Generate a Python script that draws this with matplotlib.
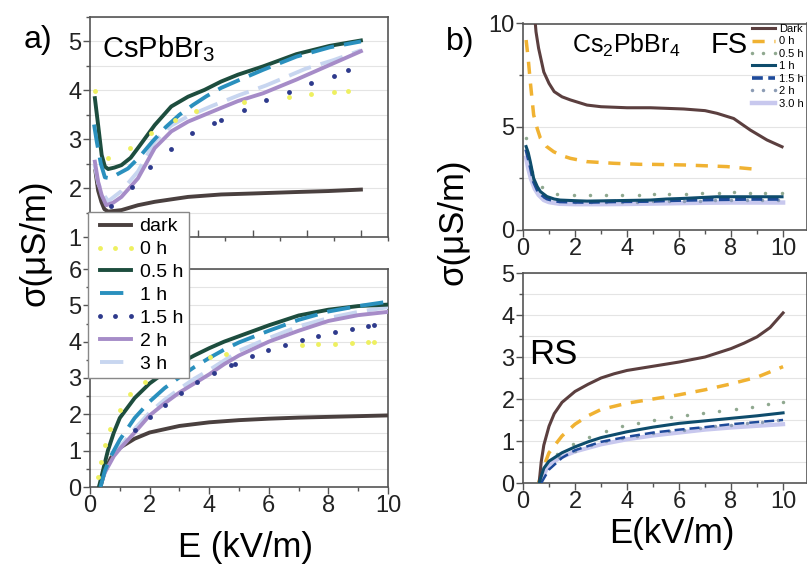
import numpy as np
import matplotlib
matplotlib.use("Agg")
import matplotlib.pyplot as plt
from matplotlib.ticker import MultipleLocator

plt.rcParams['font.family'] = ['Liberation Sans', 'DejaVu Sans']
plt.rcParams['mathtext.default'] = 'regular'

# ---- CsPbBr3, upper panel ----
at_dark_x = [0.2, 0.3, 0.42, 0.53, 0.67, 1.16, 1.77, 2.39, 3.0, 3.62, 4.84, 6.0, 7.62, 8.8, 10.0]
at_dark_y = [2.35, 1.95, 1.72, 1.57, 1.52, 1.55, 1.65, 1.72, 1.77, 1.82, 1.87, 1.89, 1.92, 1.94, 1.97]
at_05_x = [0.18, 0.3, 0.43, 0.55, 0.67, 0.9, 1.16, 1.5, 1.77, 2.1, 2.39, 3.0, 3.62, 4.23, 4.84, 5.46, 6.39, 7.62, 8.85, 10.0]
at_05_y = [3.84, 3.29, 2.68, 2.44, 2.39, 2.42, 2.47, 2.62, 2.82, 3.07, 3.29, 3.67, 3.87, 4.01, 4.18, 4.32, 4.49, 4.74, 4.91, 5.02]
at_1_x = [0.15, 0.25, 0.4, 0.55, 0.75, 1.0, 1.4, 1.8, 2.3, 2.8, 3.3, 3.8, 4.3, 4.84, 5.46, 6.39, 7.62, 8.85, 10.0]
at_1_y = [3.3, 2.95, 2.5, 2.22, 2.2, 2.28, 2.4, 2.62, 2.95, 3.25, 3.5, 3.7, 3.88, 4.05, 4.2, 4.42, 4.69, 4.88, 5.0]
at_2_x = [0.18, 0.3, 0.43, 0.6, 0.85, 1.16, 1.77, 2.39, 3.0, 3.62, 4.23, 4.84, 5.46, 6.39, 7.62, 8.85, 10.0]
at_2_y = [2.54, 2.13, 1.86, 1.65, 1.7, 1.82, 2.2, 2.82, 3.16, 3.36, 3.5, 3.64, 3.78, 3.94, 4.22, 4.52, 4.8]
at_3_x = [0.17, 0.3, 0.43, 0.67, 1.16, 1.77, 2.39, 3.0, 3.62, 4.5, 5.5, 6.5, 7.95, 9.0, 10.0]
at_3_y = [2.48, 2.1, 1.93, 1.73, 1.94, 2.34, 2.95, 3.28, 3.47, 3.68, 3.9, 4.1, 4.44, 4.62, 4.82]
at_0_x = [0.19, 0.67, 1.47, 2.27, 3.15, 3.93, 5.68, 7.35, 8.15, 9.0, 9.52]
at_0_y = [3.99, 2.62, 2.82, 3.12, 3.4, 3.57, 3.76, 3.87, 3.92, 3.97, 3.99]
at_15_x = [0.79, 1.55, 2.22, 2.98, 3.76, 4.57, 4.84, 5.68, 6.51, 7.35, 8.15, 9.0, 9.52]
at_15_y = [1.64, 2.03, 2.44, 2.8, 3.12, 3.33, 3.4, 3.6, 3.8, 3.97, 4.15, 4.3, 4.42]

# ---- CsPbBr3, lower panel ----
ab_dark_x = [0.35, 0.5, 0.7, 1.0, 1.5, 2.0, 3.0, 4.0, 5.0, 6.0, 7.0, 8.0, 9.0, 10.0]
ab_dark_y = [0.0, 0.45, 0.8, 1.08, 1.33, 1.5, 1.68, 1.78, 1.84, 1.88, 1.91, 1.93, 1.95, 1.97]
ab_05_x = [0.3, 0.45, 0.6, 0.8, 1.0, 1.5, 2.0, 2.5, 3.0, 3.5, 4.0, 4.5, 5.0, 6.0, 7.0, 8.0, 9.0, 10.0]
ab_05_y = [0.0, 0.5, 1.0, 1.5, 1.9, 2.45, 2.85, 3.15, 3.4, 3.62, 3.82, 4.0, 4.15, 4.45, 4.72, 4.88, 4.98, 5.02]
ab_1_x = [0.35, 0.5, 0.7, 1.0, 1.5, 2.0, 2.5, 3.0, 3.5, 4.0, 4.5, 5.0, 6.0, 7.0, 8.0, 9.0, 10.0]
ab_1_y = [0.0, 0.45, 0.85, 1.3, 1.9, 2.35, 2.72, 3.02, 3.3, 3.55, 3.78, 3.98, 4.3, 4.6, 4.83, 4.98, 5.1]
ab_2_x = [0.32, 0.5, 0.8, 1.0, 1.5, 2.0, 2.5, 3.0, 3.5, 4.0, 4.5, 5.0, 6.0, 7.0, 8.0, 9.0, 10.0]
ab_2_y = [0.0, 0.4, 0.85, 1.05, 1.5, 1.97, 2.3, 2.6, 2.85, 3.1, 3.38, 3.62, 4.0, 4.3, 4.57, 4.73, 4.82]
ab_3_x = [0.3, 0.5, 0.8, 1.0, 1.5, 2.0, 2.5, 3.0, 3.5, 4.0, 4.5, 5.0, 6.0, 7.0, 8.0, 9.0, 10.0]
ab_3_y = [0.0, 0.45, 0.9, 1.1, 1.6, 2.05, 2.4, 2.7, 2.98, 3.22, 3.48, 3.75, 4.1, 4.42, 4.65, 4.82, 4.95]
ab_0_x = [0.27, 0.38, 0.49, 0.66, 1.0, 1.33, 1.83, 4.02, 4.58, 7.1, 7.66, 8.22, 8.78, 9.34, 9.53]
ab_0_y = [0.28, 0.69, 1.15, 1.61, 2.11, 2.57, 2.89, 3.58, 3.67, 3.9, 3.93, 3.94, 3.96, 4.0, 4.0]
ab_15_x = [1.5, 2.0, 2.51, 3.04, 3.6, 4.16, 4.72, 4.85, 5.43, 5.98, 6.54, 7.1, 7.66, 8.22, 8.78, 9.34, 9.53]
ab_15_y = [1.56, 1.93, 2.27, 2.6, 2.88, 3.15, 3.37, 3.39, 3.61, 3.77, 3.9, 4.04, 4.16, 4.27, 4.36, 4.44, 4.46]

# ---- Cs2PbBr4, forward sweep ----
fs_dark_x = [0.42, 0.5, 0.6, 0.8, 1.0, 1.2, 1.5, 1.82, 2.46, 3.0, 4.0, 4.9, 6.18, 7.0, 7.46, 8.1, 8.74, 9.38, 9.96]
fs_dark_y = [10.8, 9.6, 8.8, 7.65, 7.1, 6.7, 6.45, 6.3, 6.05, 5.97, 5.92, 5.92, 5.86, 5.78, 5.65, 5.4, 4.84, 4.36, 4.03]
fs_0_x = [0.12, 0.2, 0.28, 0.41, 0.55, 0.67, 0.9, 1.18, 1.5, 1.82, 2.46, 3.49, 4.51, 4.9, 6.18, 7.84, 8.87, 9.15]
fs_0_y = [9.2, 8.3, 7.18, 5.57, 4.9, 4.44, 4.05, 3.79, 3.6, 3.47, 3.31, 3.23, 3.18, 3.18, 3.15, 3.07, 2.95, 2.88]
fs_05_x = [0.12, 0.35, 0.73, 1.31, 1.95, 2.59, 3.2, 3.81, 4.45, 5.03, 5.61, 6.25, 6.89, 7.53, 8.1, 8.74, 9.32, 9.96]
fs_05_y = [4.44, 2.83, 2.1, 1.74, 1.7, 1.69, 1.69, 1.7, 1.71, 1.72, 1.74, 1.76, 1.78, 1.8, 1.82, 1.8, 1.78, 1.78]
fs_1_x = [0.12, 0.2, 0.28, 0.41, 0.55, 0.67, 0.92, 1.2, 1.43, 2.0, 2.46, 3.5, 4.9, 5.5, 6.18, 7.46, 8.74, 9.96]
fs_1_y = [4.04, 3.75, 3.31, 2.5, 2.1, 1.86, 1.62, 1.5, 1.45, 1.42, 1.4, 1.42, 1.45, 1.5, 1.53, 1.61, 1.61, 1.61]
fs_15_y = [3.9, 3.5, 3.1, 2.35, 1.95, 1.75, 1.52, 1.42, 1.38, 1.36, 1.35, 1.38, 1.4, 1.43, 1.45, 1.48, 1.5, 1.5]
fs_2_x = [0.15, 0.4, 0.8, 1.4, 2.0, 2.6, 3.2, 3.8, 4.4, 5.0, 5.6, 6.2, 6.8, 7.4, 8.0, 8.6, 9.2, 9.8]
fs_2_y = [3.7, 2.4, 1.62, 1.4, 1.36, 1.35, 1.36, 1.37, 1.38, 1.39, 1.4, 1.41, 1.42, 1.43, 1.44, 1.44, 1.45, 1.45]
fs_3_x = [0.12, 0.2, 0.3, 0.45, 0.6, 0.8, 1.0, 1.4, 2.0, 3.0, 4.0, 5.0, 6.0, 7.0, 8.0, 9.0, 10.0]
fs_3_y = [3.5, 3.0, 2.5, 2.0, 1.7, 1.45, 1.35, 1.27, 1.25, 1.25, 1.26, 1.28, 1.3, 1.32, 1.33, 1.33, 1.33]

# ---- Cs2PbBr4, reverse sweep ----
rs_dark_x = [0.62, 0.7, 0.8, 1.0, 1.2, 1.5, 2.0, 2.5, 3.0, 3.5, 4.0, 5.0, 6.0, 7.0, 8.0, 8.5, 9.0, 9.5, 10.0]
rs_dark_y = [0.0, 0.5, 0.9, 1.35, 1.65, 1.92, 2.18, 2.35, 2.5, 2.6, 2.68, 2.78, 2.88, 3.0, 3.2, 3.33, 3.48, 3.7, 4.05]
rs_0_x = [0.6, 0.8, 1.0, 1.5, 2.0, 2.5, 3.0, 4.0, 5.0, 6.0, 7.0, 8.0, 9.0, 10.0]
rs_0_y = [0.0, 0.4, 0.72, 1.12, 1.4, 1.6, 1.75, 1.9, 2.0, 2.1, 2.22, 2.36, 2.52, 2.77]
rs_05_x = [1.3, 1.92, 2.55, 3.18, 3.8, 4.43, 5.05, 5.68, 6.3, 6.93, 7.55, 8.18, 8.8, 9.43, 10.0]
rs_05_y = [0.7, 0.93, 1.1, 1.24, 1.35, 1.43, 1.5, 1.56, 1.62, 1.67, 1.72, 1.77, 1.82, 1.87, 1.92]
rs_1_x = [0.62, 0.8, 1.0, 1.5, 2.0, 2.5, 3.0, 4.0, 5.0, 6.0, 7.0, 8.0, 9.0, 10.0]
rs_1_y = [0.0, 0.35, 0.52, 0.72, 0.86, 0.98, 1.08, 1.22, 1.33, 1.42, 1.48, 1.54, 1.6, 1.67]
rs_15_x = [0.7, 1.0, 1.5, 2.0, 3.0, 4.0, 5.0, 6.0, 7.0, 8.0, 9.0, 10.0]
rs_15_y = [0.0, 0.32, 0.6, 0.78, 0.98, 1.1, 1.2, 1.27, 1.33, 1.4, 1.45, 1.5]
rs_2_x = [1.4, 2.0, 2.6, 3.2, 3.8, 4.4, 5.0, 5.6, 6.2, 6.8, 7.4, 8.0, 8.6, 9.2, 9.8]
rs_2_y = [0.62, 0.77, 0.9, 1.0, 1.07, 1.13, 1.18, 1.23, 1.27, 1.31, 1.35, 1.39, 1.43, 1.46, 1.49]
rs_3_x = [0.65, 1.0, 1.5, 2.0, 3.0, 4.0, 5.0, 6.0, 7.0, 8.0, 9.0, 10.0]
rs_3_y = [0.0, 0.45, 0.62, 0.75, 0.92, 1.04, 1.13, 1.2, 1.27, 1.32, 1.36, 1.4]

W, H = 807, 565
fig = plt.figure(figsize=(W / 100, H / 100), dpi=100)

def box(x0, y0, x1, y1):
    # pixel box (left, top, right, bottom) -> figure fraction rect
    return [x0 / W, 1 - y1 / H, (x1 - x0) / W, (y1 - y0) / H]

ax_at = fig.add_axes(box(90, 17, 388, 237))
ax_ab = fig.add_axes(box(90, 269, 388, 487))
ax_fs = fig.add_axes(box(523, 23.5, 807, 230))
ax_rs = fig.add_axes(box(523, 273, 807, 483))

SPINE = '#555555'
def style(ax, ymajor, yminor, xlabels=True):
    for s in ax.spines.values():
        s.set_color(SPINE)
        s.set_linewidth(1.2)
    ax.xaxis.set_major_locator(MultipleLocator(2))
    ax.xaxis.set_minor_locator(MultipleLocator(1))
    ax.yaxis.set_major_locator(MultipleLocator(ymajor))
    ax.yaxis.set_minor_locator(MultipleLocator(yminor))
    ax.tick_params(which='both', colors=SPINE, labelcolor='#222222', labelsize=17,
                   width=1.0, direction='out', pad=1)
    ax.tick_params(which='major', length=5)
    ax.tick_params(which='minor', length=3)
    ax.grid(True, which='both', axis='y', color='#e4e4e4', lw=0.8)
    ax.set_axisbelow(True)
    if not xlabels:
        ax.tick_params(axis='x', labelbottom=False, direction='in')

# CsPbBr3 colours
c_dark, c_0, c_05 = '#4a403f', '#eef060', '#1d4d3e'
c_1, c_15, c_2, c_3 = '#2a90be', '#2e3a8c', '#a68cc8', '#c8d6f0'
dash_a = (0, (6, 2.6))

for ax, d in [(ax_at, 'top'), (ax_ab, 'bot')]:
    if d == 'top':
        series = [(at_dark_x, at_dark_y), (at_0_x, at_0_y), (at_05_x, at_05_y), (at_1_x, at_1_y),
                  (at_15_x, at_15_y), (at_2_x, at_2_y), (at_3_x, at_3_y)]
    else:
        series = [(ab_dark_x, ab_dark_y), (ab_0_x, ab_0_y), (ab_05_x, ab_05_y), (ab_1_x, ab_1_y),
                  (ab_15_x, ab_15_y), (ab_2_x, ab_2_y), (ab_3_x, ab_3_y)]
    ax.plot(*series[0], color=c_dark, lw=2.8, label='dark', zorder=3)
    ax.plot(*series[6], color=c_3, lw=2.8, ls=dash_a, label='3 h', zorder=3)
    ax.plot(*series[5], color=c_2, lw=2.8, label='2 h', zorder=4)
    ax.plot(*series[3], color=c_1, lw=2.8, ls=dash_a, label='1 h', zorder=5)
    ax.plot(*series[2], color=c_05, lw=2.8, label='0.5 h', zorder=4)
    ax.plot(*series[1], ls='none', marker='o', ms=3.5, mec='none', color=c_0, label='0 h', zorder=6)
    ax.plot(*series[4], ls='none', marker='o', ms=3.5, mec='none', color=c_15, label='1.5 h', zorder=6)

ax_at.set_xlim(0, 11)
ax_at.set_ylim(1, 5.5)
style(ax_at, 1, 0.5, xlabels=False)
ax_ab.set_xlim(0, 10)
ax_ab.set_ylim(0, 6)
style(ax_ab, 1, 0.5)

ax_at.text(0.45, 4.85, 'CsPbBr$_3$', fontsize=21, va='center')

h, l = ax_ab.get_legend_handles_labels()
order = ['dark', '0 h', '0.5 h', '1 h', '1.5 h', '2 h', '3 h']
hd = dict(zip(l, h))
fig.legend([hd[k] for k in order], order, loc='upper left',
           bbox_to_anchor=(88 / W, 1 - 212 / H), fontsize=14, numpoints=3,
           handlelength=2.2, handletextpad=0.15, labelspacing=0.27, borderpad=0.3,
           borderaxespad=0, fancybox=False, framealpha=1, edgecolor='#888888')

# Cs2PbBr4 colours
b_dark, b_0, b_05 = '#5b3f3f', '#f0b232', '#8fa88f'
b_1, b_15, b_2, b_3 = '#0e4c6c', '#1e4a9a', '#8c9cb4', '#c8c8ee'

ax_fs.plot(fs_3_x, fs_3_y, color=b_3, lw=3.2, label='3.0 h', zorder=2)
ax_fs.plot(fs_2_x, fs_2_y, ls='none', marker='o', ms=2.5, mec='none', color=b_2, label='2 h', zorder=3)
ax_fs.plot(fs_1_x, fs_15_y, color=b_15, lw=2.6, ls=(0, (3, 1.5)), label='1.5 h', zorder=4)
ax_fs.plot(fs_1_x, fs_1_y, color=b_1, lw=2.2, label='1 h', zorder=4)
ax_fs.plot(fs_05_x, fs_05_y, ls='none', marker='o', ms=2.5, mec='none', color=b_05, label='0.5 h', zorder=3)
ax_fs.plot(fs_0_x, fs_0_y, color=b_0, lw=2.5, ls=(0, (3.5, 2.8)), label='0 h', zorder=3)
ax_fs.plot(fs_dark_x, fs_dark_y, color=b_dark, lw=2.2, label='Dark', zorder=3)

ax_rs.plot(rs_3_x, rs_3_y, color=b_3, lw=3.0, zorder=2)
ax_rs.plot(rs_2_x, rs_2_y, ls='none', marker='o', ms=2.5, mec='none', color=b_2, zorder=3)
ax_rs.plot(rs_15_x, rs_15_y, color=b_15, lw=1.8, ls=(0, (4, 2)), zorder=4)
ax_rs.plot(rs_1_x, rs_1_y, color=b_1, lw=2.2, zorder=4)
ax_rs.plot(rs_05_x, rs_05_y, ls='none', marker='o', ms=2.5, mec='none', color=b_05, zorder=3)
ax_rs.plot(rs_0_x, rs_0_y, color=b_0, lw=2.5, ls=(0, (3.5, 2.8)), zorder=3)
ax_rs.plot(rs_dark_x, rs_dark_y, color=b_dark, lw=2.2, zorder=3)

for ax in (ax_fs, ax_rs):
    ax.set_xlim(0, 10.92)
ax_fs.set_ylim(0, 10)
style(ax_fs, 5, 2.5)
ax_rs.set_ylim(0, 5)
style(ax_rs, 1, 0.5)

ax_fs.text(1.9, 8.95, 'Cs$_2$PbBr$_4$', fontsize=18, va='center')
ax_fs.text(7.2, 8.95, 'FS', fontsize=21, va='center')
ax_rs.text(0.25, 3.05, 'RS', fontsize=25, va='center')

h, l = ax_fs.get_legend_handles_labels()
order_b = ['Dark', '0 h', '0.5 h', '1 h', '1.5 h', '2 h', '3.0 h']
hd = dict(zip(l, h))
fig.legend([hd[k] for k in order_b], order_b, loc='upper left',
           bbox_to_anchor=(749 / W, 1 - 24 / H), fontsize=8, numpoints=3,
           handlelength=2.6, handletextpad=0.1, labelspacing=0.22, borderpad=0,
           borderaxespad=0, frameon=False)

# panel tags and axis titles
fig.text(24 / W, 1 - 40 / H, 'a)', fontsize=23, va='center', ha='left')
fig.text(446 / W, 1 - 42 / H, 'b)', fontsize=23, va='center', ha='left')
fig.text(35 / W, 1 - 243 / H, 'σ(μS/m)', fontsize=25, rotation=90, va='center', ha='center')
fig.text(453 / W, 1 - 222 / H, 'σ(μS/m)', fontsize=25, rotation=90, va='center', ha='center')
fig.text(246 / W, 1 - 548 / H, 'E (kV/m)', fontsize=25, va='center', ha='center')
fig.text(672 / W, 1 - 533 / H, 'E(kV/m)', fontsize=25, va='center', ha='center')

fig.savefig('out.png', dpi=100)
